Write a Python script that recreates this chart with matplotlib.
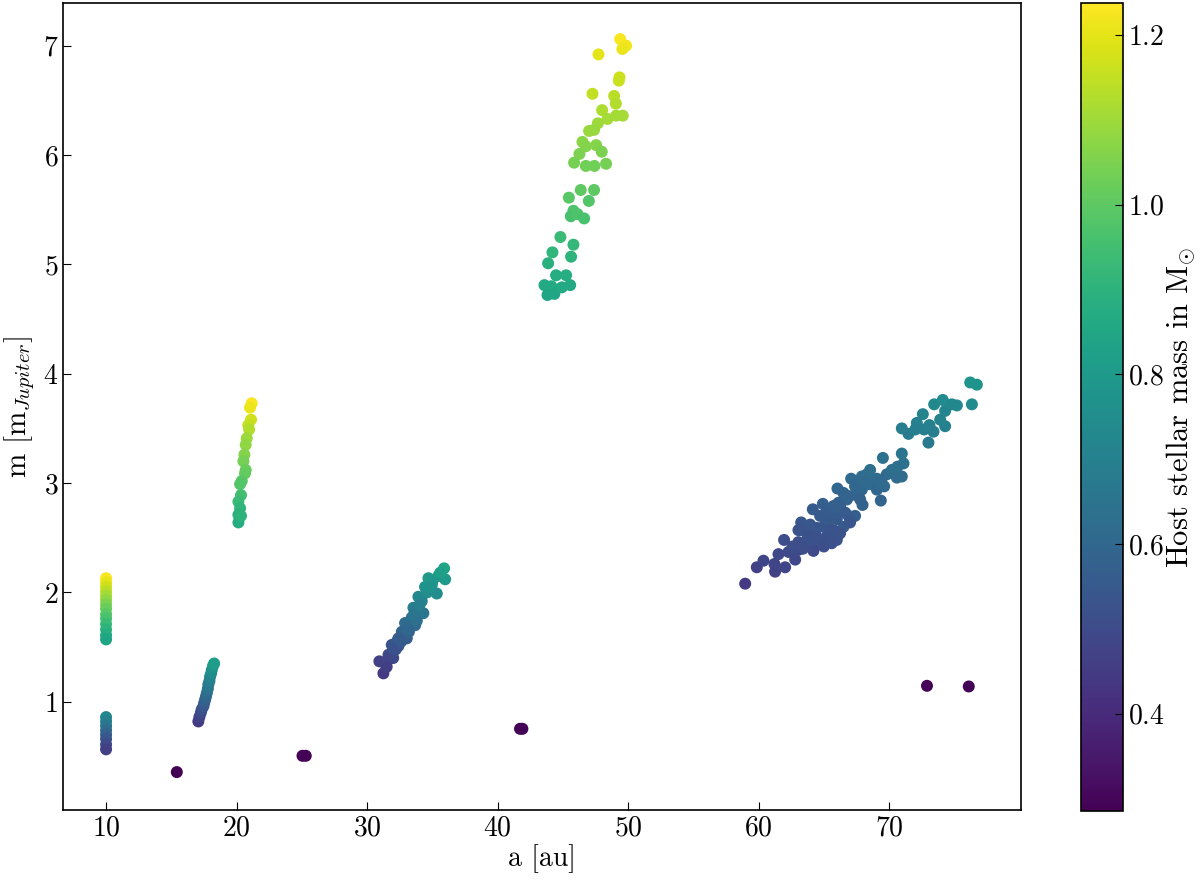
import matplotlib
matplotlib.use("Agg")
import matplotlib.pyplot as plt
import numpy as np

plt.rcParams.update({
    "font.family": "serif",
    "font.serif": ["cmr10", "DejaVu Serif"],
    "mathtext.fontset": "cm",
    "axes.formatter.use_mathtext": True,
    "font.size": 20,
    "xtick.direction": "in",
    "ytick.direction": "in",
    "xtick.major.size": 6,
    "ytick.major.size": 6,
    "axes.linewidth": 1.2,
})

# ---- planets: semi-major axis [au], mass [M_Jup], host star mass [M_sun] ----
# a = 10 au, upper column
a_c1 = [10.0] * 14
m_c1 = [2.13, 2.09, 2.05, 2.01, 1.97, 1.93, 1.89, 1.85, 1.80, 1.76, 1.71, 1.66, 1.61, 1.57]
h_c1 = [1.23, 1.20, 1.17, 1.14, 1.11, 1.08, 1.05, 1.02, 0.99, 0.96, 0.93, 0.90, 0.87, 0.85]

# a = 10 au, lower column
a_c2 = [10.0] * 8
m_c2 = [0.86, 0.82, 0.78, 0.74, 0.70, 0.66, 0.61, 0.565]
h_c2 = [0.73, 0.70, 0.66, 0.62, 0.58, 0.54, 0.50, 0.46]

# ~17-18 au
a_c3 = [17.07, 17.15, 17.26, 17.33, 17.46, 17.52, 17.59, 17.66, 17.72, 17.80,
        17.84, 17.92, 17.97, 18.05, 18.10, 18.20, 18.28]
m_c3 = [0.82, 0.86, 0.90, 0.93, 0.96, 0.99, 1.02, 1.05, 1.08, 1.12,
        1.16, 1.19, 1.23, 1.26, 1.29, 1.33, 1.35]
h_c3 = [0.45, 0.47, 0.50, 0.52, 0.54, 0.56, 0.58, 0.60, 0.62, 0.65,
        0.67, 0.69, 0.72, 0.74, 0.76, 0.79, 0.81]

# ~20-21 au
a_c4 = [21.16, 21.03, 21.11, 20.90, 20.96, 20.78, 20.70, 20.60, 20.52, 20.70,
        20.65, 20.40, 20.27, 20.34, 20.14, 20.27, 20.14, 20.14, 20.34]
m_c4 = [3.73, 3.69, 3.58, 3.53, 3.49, 3.41, 3.35, 3.26, 3.20, 3.12,
        3.09, 3.02, 2.99, 2.89, 2.83, 2.77, 2.71, 2.64, 2.70]
h_c4 = [1.23, 1.21, 1.17, 1.15, 1.13, 1.10, 1.08, 1.06, 1.04, 1.02,
        1.01, 0.99, 0.98, 0.95, 0.93, 0.91, 0.89, 0.87, 0.90]

# ~31-36 au
a_c5 = [31.25, 30.94, 31.38, 31.64, 31.89, 32.28, 32.66, 33.04, 32.91, 33.42,
        33.68, 33.55, 34.19, 34.31, 33.93, 34.44, 34.96, 35.34, 34.70, 35.46,
        35.90, 35.98, 32.40, 32.02, 33.30, 33.81, 31.60, 32.00, 32.20, 32.60,
        32.80, 33.20, 33.00, 33.60, 34.00, 34.60, 35.00, 35.60, 34.80, 31.50,
        32.40]
m_c5 = [1.26, 1.37, 1.35, 1.43, 1.52, 1.55, 1.64, 1.58, 1.72, 1.77,
        1.70, 1.86, 1.92, 1.81, 1.96, 2.05, 2.07, 1.99, 2.13, 2.15,
        2.22, 2.12, 1.51, 1.46, 1.69, 1.74, 1.38, 1.40, 1.48, 1.55,
        1.60, 1.64, 1.66, 1.80, 1.88, 2.00, 2.10, 2.18, 2.05, 1.32,
        1.58]
h_c5 = [0.44, 0.47, 0.47, 0.50, 0.53, 0.55, 0.58, 0.56, 0.62, 0.64,
        0.61, 0.68, 0.71, 0.66, 0.73, 0.77, 0.78, 0.75, 0.80, 0.81,
        0.84, 0.80, 0.54, 0.52, 0.61, 0.63, 0.48, 0.49, 0.52, 0.55,
        0.57, 0.59, 0.60, 0.65, 0.69, 0.75, 0.79, 0.82, 0.77, 0.46,
        0.56]

# ~43-50 au
a_c6 = [49.39, 49.85, 49.56, 47.73, 49.34, 49.29, 47.27, 48.93, 49.06, 48.01,
        48.42, 49.08, 49.59, 47.68, 47.39, 47.01, 46.50, 46.76, 47.55, 47.98,
        46.27, 45.86, 46.76, 47.42, 48.31, 46.37, 47.39, 45.46, 46.99, 45.81,
        45.61, 46.12, 46.63, 44.81, 45.81, 44.20, 45.63, 43.87, 44.48, 45.25,
        43.59, 44.12, 44.92, 45.56, 43.82, 44.35]
m_c6 = [7.06, 7.00, 6.97, 6.92, 6.71, 6.68, 6.56, 6.54, 6.47, 6.41,
        6.33, 6.36, 6.36, 6.29, 6.23, 6.22, 6.12, 6.08, 6.09, 6.03,
        6.01, 5.93, 5.90, 5.90, 5.92, 5.68, 5.68, 5.61, 5.58, 5.49,
        5.44, 5.46, 5.42, 5.25, 5.18, 5.11, 5.07, 5.01, 4.90, 4.90,
        4.81, 4.80, 4.79, 4.81, 4.72, 4.73]
h_c6 = [1.23, 1.22, 1.21, 1.20, 1.17, 1.16, 1.15, 1.14, 1.13, 1.12,
        1.11, 1.11, 1.11, 1.10, 1.09, 1.09, 1.07, 1.06, 1.06, 1.05,
        1.05, 1.04, 1.03, 1.03, 1.04, 1.00, 1.00, 0.99, 0.98, 0.97,
        0.96, 0.97, 0.96, 0.93, 0.92, 0.91, 0.90, 0.89, 0.88, 0.88,
        0.86, 0.86, 0.86, 0.86, 0.85, 0.85]

# ~59-77 au
a_c7 = [58.97, 59.86, 60.37, 61.26, 61.21, 62.03, 61.52, 62.29, 61.95, 63.05,
        63.05, 63.31, 63.26, 63.95, 63.69, 64.33, 64.58, 65.23, 65.99, 64.97,
        65.48, 64.15, 64.92, 65.48, 65.99, 66.50, 66.88, 67.39, 66.12, 66.04,
        66.76, 67.65, 67.96, 67.09, 67.91, 68.29, 68.49, 69.36, 69.06, 69.62,
        69.82, 69.52, 70.21, 70.59, 70.97, 71.10, 70.97, 70.97, 71.48, 72.12,
        72.58, 72.68, 73.09, 73.40, 73.01, 73.45, 74.11, 74.29, 74.29, 74.80,
        75.19, 76.34, 76.21, 76.72, 73.91, 72.00, 65.48, 64.71, 69.06,
        70.64, 69.40, 69.26, 68.54, 67.91, 67.78, 67.39, 66.50, 66.96, 67.78,
        65.22, 65.73, 66.24, 66.63, 67.01, 65.99, 65.22, 63.05, 64.46, 65.73,
        66.24, 67.01, 65.22, 63.95, 62.60, 63.40, 64.00, 64.50, 65.00, 63.80,
        62.80, 64.20, 65.60, 66.00]
m_c7 = [2.08, 2.23, 2.29, 2.19, 2.26, 2.23, 2.35, 2.37, 2.48, 2.39,
        2.46, 2.57, 2.64, 2.62, 2.48, 2.54, 2.47, 2.47, 2.48, 2.60,
        2.67, 2.76, 2.81, 2.72, 2.74, 2.60, 2.70, 2.70, 2.82, 2.95,
        2.85, 2.88, 2.80, 3.04, 2.94, 3.08, 2.99, 2.84, 3.04, 2.97,
        3.08, 3.23, 3.12, 3.05, 3.06, 3.18, 3.27, 3.50, 3.45, 3.55,
        3.63, 3.49, 3.53, 3.47, 3.37, 3.72, 3.76, 3.66, 3.52, 3.72,
        3.71, 3.72, 3.92, 3.90, 3.58, 3.49, 2.57, 2.70, 2.94,
        3.15, 3.03, 3.00, 3.12, 3.06, 3.00, 2.97, 2.91, 2.88, 2.85,
        2.76, 2.79, 2.79, 2.73, 2.67, 2.67, 2.67, 2.57, 2.59, 2.57,
        2.54, 2.64, 2.51, 2.51, 2.42, 2.40, 2.45, 2.50, 2.42, 2.52,
        2.30, 2.38, 2.45, 2.55]
h_c7 = [0.45, 0.47, 0.48, 0.47, 0.48, 0.48, 0.49, 0.50, 0.51, 0.50,
        0.51, 0.53, 0.54, 0.54, 0.52, 0.53, 0.53, 0.53, 0.53, 0.54,
        0.55, 0.56, 0.57, 0.56, 0.57, 0.55, 0.56, 0.57, 0.58, 0.60,
        0.59, 0.59, 0.58, 0.61, 0.60, 0.62, 0.61, 0.59, 0.62, 0.61,
        0.62, 0.64, 0.63, 0.62, 0.62, 0.64, 0.65, 0.69, 0.68, 0.70,
        0.71, 0.69, 0.70, 0.69, 0.67, 0.73, 0.74, 0.72, 0.70, 0.73,
        0.73, 0.74, 0.78, 0.78, 0.71, 0.69, 0.53, 0.55, 0.60,
        0.63, 0.61, 0.61, 0.63, 0.62, 0.61, 0.60, 0.59, 0.59, 0.58,
        0.56, 0.57, 0.57, 0.56, 0.55, 0.55, 0.55, 0.53, 0.54, 0.53,
        0.53, 0.54, 0.52, 0.52, 0.51, 0.51, 0.52, 0.52, 0.51, 0.52,
        0.49, 0.50, 0.52, 0.53]

# isolated low-mass hosts
a_iso = [15.42, 25.05, 25.30, 41.72, 41.90, 72.90, 76.10]
m_iso = [0.357, 0.506, 0.506, 0.753, 0.753, 1.146, 1.140]
h_iso = [0.285, 0.29, 0.29, 0.29, 0.29, 0.295, 0.29]

a_all = np.concatenate([a_c1, a_c2, a_c3, a_c4, a_c5, a_c6, a_c7, a_iso])
m_all = np.concatenate([m_c1, m_c2, m_c3, m_c4, m_c5, m_c6, m_c7, m_iso])
h_all = np.concatenate([h_c1, h_c2, h_c3, h_c4, h_c5, h_c6, h_c7, h_iso])

fig = plt.figure(figsize=(12, 8.85), dpi=100)
ax = fig.add_axes([0.0525, 0.0847, 0.7983, 0.9119])
cax = fig.add_axes([0.9008, 0.0836, 0.035, 0.913])

sc = ax.scatter(a_all, m_all, c=h_all, cmap="viridis", s=58,
                vmin=0.285, vmax=1.238)

ax.set_xlim(6.7, 80.1)
ax.set_ylim(0.01, 7.39)
ax.set_xticks([10, 20, 30, 40, 50, 60, 70])
ax.set_yticks([1, 2, 3, 4, 5, 6, 7])
ax.set_xlabel("a [au]", labelpad=2)
ax.set_ylabel(r"m [m$_{Jupiter}$]", labelpad=4, fontsize=21)

cb = fig.colorbar(sc, cax=cax)
cb.set_ticks([0.4, 0.6, 0.8, 1.0, 1.2])
cb.ax.tick_params(direction="in", length=6)
cb.set_label(r"Host stellar mass in M$_{\odot}$", labelpad=0, fontsize=22)

fig.savefig("out.png", dpi=100)
